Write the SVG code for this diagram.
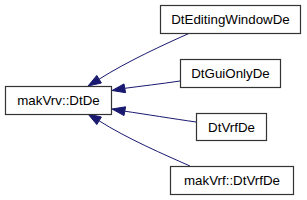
<svg xmlns="http://www.w3.org/2000/svg" width="307" height="200" viewBox="0 0 307 200">
<style>
.box{fill:#ffffff;stroke:#333333;stroke-width:1.2}
.lbl{font-family:"Liberation Sans",Arial,Helvetica,sans-serif;font-size:13.33px;fill:#000000;text-anchor:middle}
.edge{fill:none;stroke:#191970;stroke-width:1}
.head{fill:#191970;stroke:#191970;stroke-width:1}
</style>
<rect width="307" height="200" fill="#ffffff"/>
<g id="connectors">
<path class="edge" d="M190,33 C165,44 126,62 99.1,79.2"/>
<polygon class="head" points="96.8,75.4 88,86 101.4,83"/>
<path class="edge" d="M180,81 C160,84 142,86 124.8,88.3"/>
<polygon class="head" points="124,83.9 112,90.5 125.6,92.7"/>
<path class="edge" d="M196,122 C175,119 144,114 124.8,111.2"/>
<polygon class="head" points="125.6,106.8 112,109 124,115.6"/>
<path class="edge" d="M190,166 C165,155 126,138 99.1,120.8"/>
<polygon class="head" points="101.4,117 88,114 96.8,124.6"/>
</g>
<g id="node_makVrv_DtDe">
<rect class="box" x="5.5" y="86.5" width="106" height="28"/>
<text class="lbl" x="58.5" y="104.5">makVrv::DtDe</text>
</g>
<g id="node_DtEditingWindowDe">
<rect class="box" x="160.5" y="5.5" width="140" height="28"/>
<text class="lbl" x="230.5" y="23.5">DtEditingWindowDe</text>
</g>
<g id="node_DtGuiOnlyDe">
<rect class="box" x="180.5" y="59.5" width="100" height="28"/>
<text class="lbl" x="230.5" y="77.5">DtGuiOnlyDe</text>
</g>
<g id="node_DtVrfDe">
<rect class="box" x="196.5" y="113.5" width="70" height="27"/>
<text class="lbl" x="231.5" y="131.5">DtVrfDe</text>
</g>
<g id="node_makVrf_DtVrfDe">
<rect class="box" x="170.5" y="166.5" width="123" height="28"/>
<text class="lbl" x="232" y="184.5">makVrf::DtVrfDe</text>
</g>
</svg>
